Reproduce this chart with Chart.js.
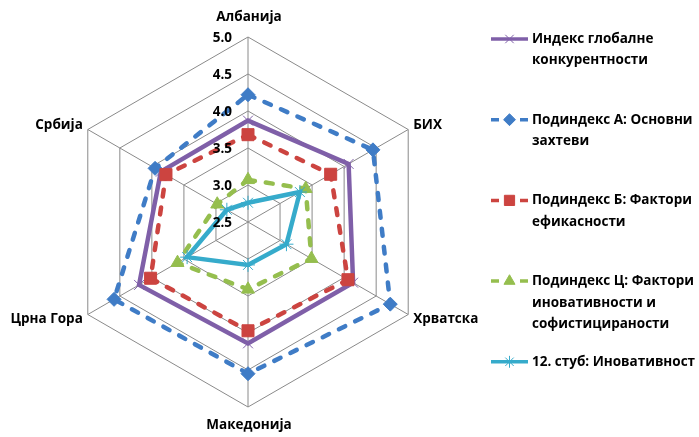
<!DOCTYPE html>
<html><head><meta charset="utf-8">
<script src="https://cdn.jsdelivr.net/npm/chart.js@4.4.0/dist/chart.umd.min.js"></script>
<style>html,body{margin:0;padding:0;background:#fff;}#wrap{width:699px;height:437px;position:relative;}</style>
</head><body><div id="wrap"><canvas id="c" width="699" height="437"></canvas></div>
<script>
// ---- data ----
const categories = ['Албанија', 'БИХ', 'Хрватска', 'Македонија', 'Црна Гора', 'Србија'];
const seriesNames = [
  ['Индекс глобалне', 'конкурентности'],
  ['Подиндекс А: Основни', 'захтеви'],
  ['Подиндекс Б: Фактори', 'ефикасности'],
  ['Подиндекс Ц: Фактори', 'иновативности и', 'софистицираности'],
  ['12. стуб: Иновативност']
];
const gciIndex     = [3.87, 4.07, 4.14, 4.14, 4.20, 3.86];
const subindexA    = [4.22, 4.45, 4.72, 4.55, 4.59, 3.95];
const subindexB    = [3.68, 3.79, 4.06, 3.97, 4.02, 3.78];
const subindexC    = [3.07, 3.40, 3.49, 3.41, 3.60, 2.98];
const pillar12     = [2.76, 3.31, 3.10, 3.08, 3.45, 2.83];
const tickValues = [2.5, 3.0, 3.5, 4.0, 4.5, 5.0];
const tickLabels = ['2.5', '3.0', '3.5', '4.0', '4.5', '5.0'];

// ---- styles ----
const FONT = 'bold 13.5px "Open Sans", "Noto Sans", sans-serif';
const styles = [
  {color:'#7F5FA8', dash:[], style:'crossRot', radius:7, bw:1},
  {color:'#3F7CC6', dash:[7,11], style:'rectRot', radius:7, bw:1},
  {color:'#CC4440', dash:[7,11], style:'rect', radius:8.5, bw:1},
  {color:'#95BE4E', dash:[7,11], style:'triangle', radius:7.5, bw:1},
  {color:'#36ABCB', dash:[], style:'star', radius:7, bw:1}
];
const seriesData = [gciIndex, subindexA, subindexB, subindexC, pillar12];

const datasets = seriesData.map((d, i) => {
  const s = styles[i];
  return {
    label: seriesNames[i].join(' '),
    data: d,
    borderColor: s.color,
    backgroundColor: s.color,
    borderWidth: 4.5,
    borderDash: s.dash,
    borderCapStyle: s.dash.length ? 'round' : 'butt',
    borderJoinStyle: 'miter',
    fill: false,
    tension: 0,
    pointStyle: s.style,
    pointRadius: s.radius,
    pointHoverRadius: s.radius,
    pointBackgroundColor: s.color,
    pointBorderColor: s.color,
    pointBorderWidth: s.bw,
    order: 4 - i
  };
});

const labelPlugin = {
  id: 'customLabels',
  afterDraw(chart) {
    const ctx = chart.ctx;
    const s = chart.scales.r;
    ctx.save();
    ctx.font = FONT;
    ctx.fillStyle = '#000';
    ctx.textBaseline = 'middle';
    // radial tick labels (left of vertical axis)
    ctx.textAlign = 'right';
    tickValues.forEach((v, i) => {
      const d = s.getDistanceFromCenterForValue(v);
      ctx.fillText(tickLabels[i], s.xCenter - 16, s.yCenter - d + 1);
    });
    // point labels
    categories.forEach((c, i) => {
      const p = s.getPointPosition(i, s.drawingArea);
      const dx = p.x - s.xCenter, dy = p.y - s.yCenter;
      if (Math.abs(dx) < 1) {
        ctx.textAlign = 'center';
        ctx.fillText(c, p.x + 1, dy < 0 ? p.y - 20 : p.y + 18);
      } else if (dx > 0) {
        ctx.textAlign = 'left';
        ctx.fillText(c, p.x + 5, dy < 0 ? p.y - 4 : p.y + 5);
      } else {
        ctx.textAlign = 'right';
        ctx.fillText(c, p.x - 5, dy < 0 ? p.y - 4 : p.y + 5);
      }
    });
    // legend
    ctx.textAlign = 'left';
    const lx0 = 491, lx1 = 528, mx = 509.5, tx = 532, top = 39, step = 80.7, lh = 21.6;
    datasets.forEach((ds, i) => {
      const y = top + i * step;
      const st = styles[i];
      ctx.save();
      ctx.strokeStyle = ds.borderColor;
      ctx.lineWidth = 3.5;
      ctx.setLineDash([]);
      ctx.beginPath();
      if (st.dash.length) {
        ctx.moveTo(lx0, y); ctx.lineTo(lx0 + 8, y);
        ctx.moveTo(lx1 - 8, y); ctx.lineTo(lx1, y);
      } else {
        ctx.moveTo(lx0, y); ctx.lineTo(lx1, y);
      }
      ctx.stroke();
      ctx.restore();
      ctx.save();
      ctx.fillStyle = ds.pointBackgroundColor;
      ctx.strokeStyle = ds.pointBorderColor;
      ctx.lineWidth = 1;
      Chart.helpers.drawPoint(ctx, {pointStyle: st.style, radius: st.radius * 0.85, borderWidth: 1, rotation: 0}, mx, y);
      ctx.restore();
      ctx.fillStyle = '#000';
      seriesNames[i].forEach((line, k) => {
        ctx.fillText(line, tx, y + k * lh);
      });
    });
    ctx.restore();
  }
};

new Chart(document.getElementById('c'), {
  type: 'radar',
  data: { labels: categories, datasets },
  options: {
    responsive: false,
    devicePixelRatio: 1,
    animation: false,
    layout: { padding: { left: 63, right: 266, top: 37, bottom: 30 } },
    plugins: { legend: { display: false }, tooltip: { enabled: false } },
    elements: { line: { tension: 0 } },
    scales: {
      r: {
        min: 2.5,
        max: 5,
        beginAtZero: false,
        ticks: { stepSize: 0.5, display: false },
        grid: { color: '#8a8a8a', lineWidth: 1 },
        angleLines: { color: '#8a8a8a', lineWidth: 1 },
        pointLabels: { display: false }
      }
    }
  },
  plugins: [labelPlugin]
});
</script>
</body></html>
